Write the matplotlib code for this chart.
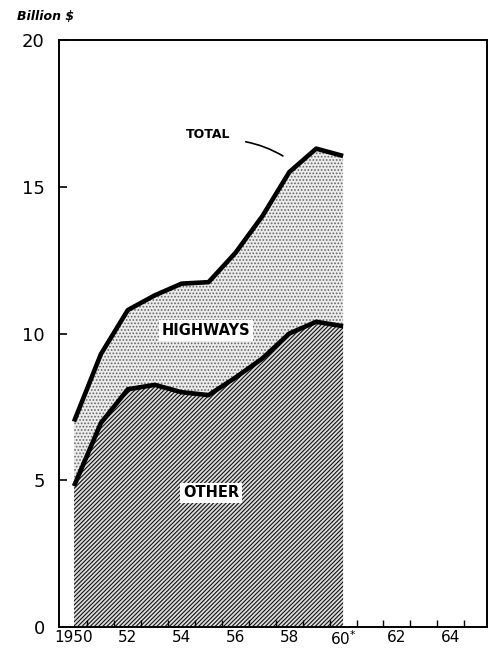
import numpy as np
import matplotlib.pyplot as plt

years = [1950, 1951, 1952, 1953, 1954, 1955, 1956, 1957, 1958, 1959, 1960]
total = [7.0, 9.3, 10.8, 11.3, 11.7, 11.75, 12.75, 14.0, 15.5, 16.3, 16.05]
other = [4.8, 6.95, 8.1, 8.25, 8.0, 7.9, 8.5, 9.15, 10.0, 10.4, 10.25]
xtick_years = [1950, 1952, 1954, 1956, 1958, 1960, 1962, 1964]
xtick_labels = ['1950', '52', '54', '56', '58', '60$^{*}$', '62', '64']
yticks = [0, 5, 10, 15, 20]

plt.rcParams['hatch.linewidth'] = 0.8

fig = plt.figure(figsize=(4.93, 6.5), dpi=100)
ax = fig.add_axes([0.119, 0.0354, 0.869, 0.903])

# stippled highways band, hatched "other" band
ax.fill_between(years, other, total, facecolor='#ececec', edgecolor='#666666',
                hatch='.....', linewidth=0)
ax.fill_between(years, 0, other, facecolor='#dddddd', edgecolor='#111111',
                hatch='////////', linewidth=0)

ax.plot(years, total, color='black', linewidth=3.3, solid_capstyle='butt')
ax.plot(years, other, color='black', linewidth=3.3, solid_capstyle='butt')

ax.set_xlim(1949.43, 1965.35)
ax.set_ylim(0, 20)

for s in ax.spines.values():
    s.set_linewidth(1.4)

ax.set_xticks(xtick_years)
ax.set_xticklabels(xtick_labels, fontsize=11)
ax.set_xticks(np.arange(1950.5, 1965, 1), minor=True)
ax.tick_params(axis='x', which='major', length=0, pad=2)
ax.tick_params(axis='x', which='minor', direction='in', length=5, width=1)
ax.set_yticks(yticks)
ax.tick_params(axis='y', direction='in', length=6, width=1.2, labelsize=13, pad=10)

box = dict(facecolor='white', edgecolor='none', pad=2)
ax.text(1954.9, 10.1, 'HIGHWAYS', fontsize=10.5, fontweight='bold',
        ha='center', va='center', bbox=box)
ax.text(1955.1, 4.57, 'OTHER', fontsize=10.5, fontweight='bold',
        ha='center', va='center', bbox=box)
ax.text(1955.0, 16.77, 'TOTAL', fontsize=9, fontweight='bold',
        ha='center', va='center')
ax.annotate('', xy=(1957.85, 16.0), xytext=(1956.28, 16.55),
            arrowprops=dict(arrowstyle='-', color='black', lw=1.2,
                            connectionstyle='arc3,rad=-0.1'))

fig.text(0.035, 0.975, 'Billion $', fontsize=9, fontweight='bold',
         fontstyle='italic', ha='left', va='center')

fig.savefig('out.png', dpi=100)
